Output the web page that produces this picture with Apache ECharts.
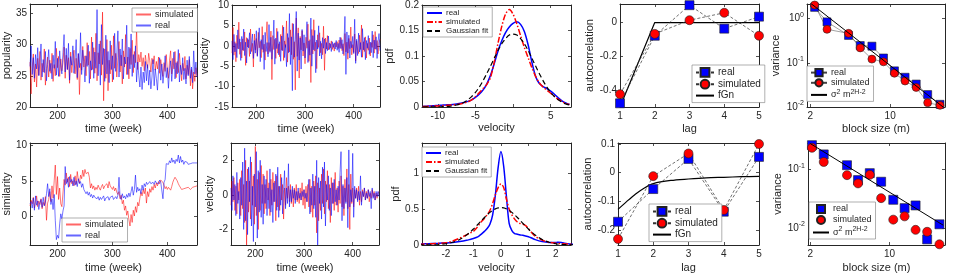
<!DOCTYPE html>
<html><head><meta charset="utf-8">
<script src="https://cdn.jsdelivr.net/npm/echarts@6/dist/echarts.min.js"></script>
<style>html,body{margin:0;padding:0;background:#fff}#c{width:954px;height:278px}</style>
</head><body><div id="c"></div>
<script>
// ---------- data ----------
const WEEK_START = 150, WEEK_STEP = 2;
const timeTicks = [200, 300, 400];

const popReal = [
26.5,29.8,25.2,27.9,24.6,28.4,26.1,29.5,25.0,27.2,
30.1,24.8,27.6,25.5,28.9,24.2,26.8,29.2,25.7,27.0,
24.5,28.3,26.2,30.5,25.1,27.8,24.9,29.0,26.4,25.3,
28.7,31.6,25.6,29.4,26.0,30.2,24.3,28.1,26.7,29.8,
25.4,27.5,30.8,24.7,28.6,26.3,31.9,25.2,29.1,27.3,
24.0,28.2,26.5,29.9,23.8,27.4,25.9,30.4,24.6,28.8,
26.2,35.6,25.0,30.1,23.5,33.2,26.8,29.4,24.1,31.5,
25.3,28.9,23.9,30.6,26.0,28.2,24.4,31.8,25.7,28.5,
32.2,24.8,29.3,26.6,30.9,24.5,28.0,26.9,33.1,25.2,
29.6,26.1,31.7,24.9,28.4,26.3,29.8,24.0,27.2,25.1,
23.2,26.4,22.8,25.6,23.9,27.3,24.2,26.8,23.5,25.9,
22.9,24.8,27.6,23.4,26.1,24.6,22.7,25.8,27.9,24.3,
26.9,23.8,25.5,28.2,24.7,26.3,23.0,25.9,27.4,24.1,
26.6,28.8,24.5,27.1,25.3,29.2,24.0,26.7,25.2,27.9,
24.4,26.2,23.7,27.5,25.0,28.1,24.6,26.4,23.9,29.0,
25.3,27.2,24.8];
const popSim = [
27.2,22.1,26.4,28.5,24.0,26.9,23.2,27.8,25.1,28.9,
24.3,27.0,25.6,29.3,23.5,26.2,28.0,24.8,27.5,25.4,
28.6,24.1,26.8,25.0,29.4,26.3,28.1,24.9,27.7,25.8,
27.1,29.6,24.6,28.3,26.0,27.9,23.8,28.8,25.5,27.4,
29.1,25.3,27.8,24.4,28.5,22.0,27.0,25.9,29.7,26.4,
28.2,25.0,30.3,26.7,28.9,24.5,31.2,26.0,29.5,25.4,
31.8,24.2,28.7,26.9,30.6,25.1,35.2,21.0,29.3,24.6,
30.8,22.6,27.5,25.3,29.9,24.0,31.4,26.2,28.6,24.8,
27.9,30.5,25.6,28.3,23.7,29.0,26.4,31.6,25.2,28.0,
24.5,29.4,26.8,30.7,25.5,28.9,27.1,32.6,26.0,28.4,
27.2,28.8,26.5,27.9,25.8,28.3,27.0,26.2,28.6,27.4,
25.6,27.8,26.9,28.2,25.9,27.3,26.1,28.0,25.4,27.6,
26.3,24.9,27.1,25.7,28.4,26.0,24.6,27.5,29.0,25.3,
27.8,26.1,28.9,24.7,27.3,25.5,28.6,26.4,24.2,27.0,
25.8,28.1,24.5,26.7,25.2,27.6,23.4,26.0,22.9,25.6,
24.1,26.3,25.0];
const velReal = [
1.2,-3.4,2.8,-1.5,0.6,-2.9,3.9,-0.8,1.7,-3.6,
2.3,-1.1,4.1,-2.4,0.9,-4.2,1.8,-0.5,3.2,-2.0,
0.4,2.9,-3.1,1.3,-1.8,3.7,-2.6,0.7,4.4,-3.9,
1.5,-0.9,2.6,-5.8,3.3,-1.4,0.8,-2.7,5.2,-1.6,
2.1,-3.3,0.5,6.3,-4.5,1.9,-0.7,3.5,-2.2,1.0,
-3.8,2.4,-1.2,4.6,-2.9,0.3,-5.1,3.0,-1.7,7.9,
-4.6,2.2,-11.0,5.4,-2.8,1.6,8.4,-6.2,3.1,-3.5,
1.9,-5.7,4.0,-1.3,2.7,-3.0,0.6,5.9,-4.1,1.2,
-2.3,6.8,-5.0,2.5,-1.0,3.8,-6.6,1.4,-0.8,4.9,
-2.5,1.1,-3.2,2.0,-0.6,1.7,-1.9,0.8,-1.2,2.4,
-0.9,0.5,-1.4,1.0,-0.4,0.7,-0.8,1.3,-1.1,0.6,
-1.6,2.1,-0.7,1.5,-2.0,0.9,7.2,-7.0,3.4,-1.8,
2.6,-3.0,1.1,-0.5,2.3,-1.9,6.5,-4.3,1.6,-2.4,
3.1,-1.5,0.8,-2.8,4.2,-1.0,2.0,-3.4,1.3,-0.6,
2.5,-2.1,0.9,-1.7,3.6,-2.9,1.4,-0.8,2.2,-3.1,
1.0,3.0,-1.2];
const velSim = [
-1.8,4.5,-2.3,1.0,-3.9,2.6,-0.7,5.8,-2.1,0.9,
-3.0,1.7,-1.2,3.4,-4.8,2.0,-0.3,1.5,-2.6,4.1,
-1.4,0.6,-5.2,2.9,-1.0,1.8,-2.4,3.3,-0.5,1.1,
-2.9,4.7,-1.6,0.4,-3.5,2.3,5.9,-2.0,0.8,-1.3,
3.6,-8.3,2.5,-0.9,1.6,-3.1,4.3,-1.8,0.5,-2.7,
2.8,-1.1,5.0,-3.6,1.2,-0.4,6.1,-4.0,2.0,-1.5,
3.9,-2.2,5.5,-3.3,1.0,-10.8,6.8,-2.6,4.4,-7.9,
2.3,-1.0,3.7,-2.5,0.7,-4.4,2.1,-0.6,5.3,-3.8,
1.5,-9.0,4.0,-2.0,6.4,-1.3,0.9,-5.6,2.7,-0.4,
3.2,-1.7,0.6,-2.2,4.8,-6.0,1.9,-0.8,2.5,-1.0,
0.7,-0.5,1.2,-0.9,0.4,-1.3,0.8,-0.3,1.0,-0.7,
1.4,-0.6,2.0,-1.2,0.5,-2.4,3.0,-1.5,0.9,-3.3,
1.8,-0.7,4.6,-2.2,0.3,-1.6,2.9,-3.7,1.2,-0.8,
-1.9,2.6,-0.9,5.1,-2.8,1.0,-1.4,2.2,-3.0,0.6,
-1.1,1.9,-2.5,0.8,-0.4,2.7,-1.8,3.5,-0.9,1.3,
-2.0,0.7,1.6];
const simiReal = [
1.8,2.1,1.2,2.6,0.9,2.9,1.6,2.2,1.0,1.9,
2.4,1.3,2.7,1.5,2.0,3.2,4.6,2.8,3.9,1.7,
2.5,1.0,3.1,-0.5,-3.2,-2.6,-3.0,-1.0,0.4,-0.3,
0.8,1.5,7.0,4.6,5.3,4.1,5.6,4.8,5.2,4.3,
5.5,4.4,5.0,4.2,5.3,4.6,4.9,4.1,4.6,3.8,
3.6,3.2,3.5,3.0,3.4,2.8,3.1,2.6,3.0,2.7,
2.9,2.5,2.8,2.3,2.7,2.4,2.6,2.9,2.2,2.6,
2.5,2.8,2.3,2.7,2.5,2.9,2.4,2.6,2.8,2.5,
3.0,5.5,2.7,2.4,3.2,2.6,2.9,2.5,3.1,2.7,
3.3,2.8,3.5,4.2,3.0,3.8,5.8,3.4,4.1,3.6,
3.9,3.2,4.4,3.7,4.6,4.2,4.8,4.5,4.3,4.9,
4.6,4.4,4.8,4.5,5.0,4.7,4.9,4.6,5.1,4.8,
4.9,2.5,4.8,5.2,7.4,7.6,7.3,7.8,7.5,8.2,
7.6,7.9,7.4,8.0,7.7,8.6,7.5,8.4,7.6,7.9,
7.3,7.7,7.5,7.6,7.3,7.5,7.4,7.6,7.5,7.4,
7.5,7.4,7.5];
const simiSim = [
1.5,2.3,1.8,2.7,1.2,2.0,2.9,1.4,2.2,1.7,
2.5,1.1,2.0,1.6,2.8,-0.5,1.9,2.4,3.5,2.1,
4.3,2.6,5.0,7.2,3.1,5.6,2.4,4.0,1.8,1.4,
1.6,5.2,4.4,6.1,4.8,5.5,4.2,5.9,4.6,5.0,
4.3,5.7,4.5,6.3,5.1,4.7,5.8,5.3,6.5,5.6,
6.6,6.0,5.8,6.2,5.5,4.0,4.6,3.9,4.3,3.7,
4.1,3.8,4.4,4.0,3.7,4.2,4.5,3.9,4.3,4.1,
4.6,4.0,4.9,4.3,4.4,3.8,4.2,3.6,4.0,3.4,
3.1,3.5,2.5,3.0,1.8,2.3,0.9,1.5,0.2,0.8,
-0.4,-1.3,0.3,-0.8,0.9,0.1,1.4,0.6,2.0,1.5,
2.6,3.4,2.9,3.8,3.2,4.0,1.9,3.5,2.8,3.9,
3.4,4.2,3.7,4.5,4.0,4.7,4.3,4.9,4.6,5.1,
5.3,4.8,5.0,3.9,4.2,3.8,4.1,4.0,3.7,4.2,
4.8,5.2,5.5,5.4,5.0,4.6,4.3,4.1,3.8,4.0,
3.9,3.7,4.0,3.8,4.1,3.9,3.8,4.0,4.1,3.9,
4.2,4.1,4.3];
const sVelReal = [
0.4,-0.9,1.1,-0.3,0.6,-1.2,1.3,-0.5,0.2,-1.4,
1.0,-0.6,1.9,-2.0,2.7,-1.5,0.8,-2.3,1.6,-0.4,
2.2,-1.8,0.5,-2.7,1.2,-0.7,2.5,-2.5,1.4,-1.0,
2.0,-1.3,0.6,-1.7,1.1,-0.5,0.9,-1.2,0.4,-0.8,
1.5,-1.0,0.3,-1.6,0.7,-0.4,1.2,-0.9,1.6,-1.3,
0.5,-0.6,1.0,-1.1,0.3,1.4,-0.8,0.4,-0.5,1.8,
-0.7,0.3,-0.4,0.5,-0.2,0.3,-0.5,0.2,-0.3,0.4,
-0.2,0.1,-0.3,0.2,-0.1,0.3,-0.2,0.1,-0.4,0.2,
0.9,-1.1,0.4,-0.6,1.2,-0.8,0.5,-1.3,2.0,-2.9,
1.0,-0.5,0.8,-1.4,1.6,-0.7,1.9,-1.8,0.6,-0.3,
1.1,-0.9,0.4,-1.2,0.7,-0.5,0.9,-0.4,0.3,-0.6,
0.5,-0.3,1.3,2.5,-1.5,0.6,-0.8,0.4,-0.5,1.0,
-1.9,2.6,-0.7,0.3,-0.4,2.4,-1.3,0.5,-0.2,0.3,
-0.4,0.2,-0.3,1.1,-0.6,0.2,-0.1,0.4,-0.3,0.1,
-0.2,0.3,-0.1,0.2,-0.8,0.4,-0.2,0.1,-0.3,0.2,
-0.1,0.2,-0.1];
const sVelSim = [
-0.6,0.8,-0.4,1.0,-0.9,0.5,-1.1,0.7,-0.3,0.9,
-1.2,1.4,-0.8,0.6,-1.6,2.0,-2.9,1.5,-1.0,0.8,
-1.4,1.9,-0.6,1.1,-1.7,2.8,-1.2,0.9,-2.0,1.3,
-0.9,1.7,-0.5,1.2,-1.1,0.6,-0.8,1.4,-0.3,0.7,
-1.2,0.9,-0.6,1.3,-0.4,0.8,-1.5,1.1,-0.7,0.5,
-0.9,1.2,-0.3,0.6,-1.4,0.4,-0.6,1.0,-0.2,0.5,
-0.4,0.6,-0.5,0.3,-0.7,0.4,-0.3,0.6,-0.4,0.2,
-0.5,0.4,-0.3,0.7,-0.6,0.3,-0.8,0.5,-0.4,0.6,
-0.7,0.9,-1.0,0.5,-1.3,0.8,-0.6,1.1,-2.2,0.7,
-1.5,0.4,-0.9,1.2,-0.5,1.5,-1.1,0.8,-0.4,1.4,
-0.8,0.6,-1.6,1.0,-0.5,0.7,-0.9,1.3,-0.6,0.4,
-1.0,0.8,-0.5,1.1,-0.7,0.5,-1.2,0.9,-0.4,1.5,
-0.8,0.6,-2.0,1.2,-0.5,0.4,-0.7,0.3,-0.2,0.4,
-0.3,0.5,-0.6,0.2,-0.4,0.3,-0.1,0.4,-0.3,0.2,
-0.2,0.3,-0.4,0.1,-0.2,0.3,-0.1,0.2,-0.3,0.1,
-0.2,0.1,0.2];

// pdf, top row
const pdfTopX = [-12,-11.5,-11,-10.5,-10,-9.5,-9,-8.5,-8,-7.5,-7,-6.5,-6,-5.5,-5,-4.5,-4,-3.5,-3,-2.5,-2,-1.5,-1,-0.5,0,0.5,1,1.5,2,2.5,3,3.5,4,4.5,5,5.5,6,6.5,7,7.5];
const pdfTopReal = [0.001,0.0015,0.002,0.0025,0.003,0.0035,0.004,0.0045,0.005,0.006,0.0075,0.009,0.011,0.014,0.019,0.025,0.033,0.045,0.062,0.085,0.11,0.13,0.146,0.157,0.164,0.167,0.162,0.148,0.122,0.088,0.06,0.046,0.04,0.036,0.031,0.025,0.018,0.012,0.008,0.005];
const pdfTopSim = [0.001,0.001,0.0015,0.002,0.002,0.0025,0.003,0.0035,0.004,0.005,0.006,0.008,0.01,0.014,0.02,0.028,0.036,0.044,0.058,0.088,0.125,0.158,0.182,0.191,0.182,0.163,0.14,0.117,0.097,0.077,0.06,0.047,0.039,0.033,0.027,0.021,0.015,0.011,0.007,0.005];
const pdfTopGauss = [0.0000,0.0001,0.0001,0.0002,0.0004,0.0006,0.0009,0.0014,0.0023,0.0039,0.0061,0.0094,0.0142,0.0204,0.0286,0.0389,0.0512,0.0653,0.0802,0.0957,0.111,0.124,0.134,0.141,0.143,0.141,0.134,0.124,0.111,0.0957,0.0802,0.0653,0.0512,0.0389,0.0286,0.0204,0.0142,0.0094,0.0061,0.0039];
// pdf, bottom row
const pdfBotX = [-3,-2.75,-2.5,-2.25,-2,-1.75,-1.5,-1.25,-1.1,-1,-0.9,-0.8,-0.7,-0.6,-0.5,-0.4,-0.3,-0.2,-0.1,0,0.1,0.2,0.3,0.4,0.5,0.6,0.7,0.8,0.9,1,1.1,1.25,1.5,1.75,2,2.1,2.25,2.5,2.75];
const pdfBotReal = [0.012,0.016,0.02,0.024,0.029,0.036,0.048,0.065,0.08,0.09,0.105,0.125,0.155,0.19,0.23,0.29,0.42,0.7,1.08,1.3,1.1,0.68,0.3,0.2,0.16,0.15,0.14,0.135,0.125,0.115,0.1,0.075,0.048,0.036,0.035,0.04,0.03,0.015,0.008];
const pdfBotSim = [0.01,0.013,0.018,0.024,0.03,0.055,0.095,0.14,0.17,0.19,0.23,0.28,0.33,0.37,0.42,0.48,0.58,0.7,0.8,0.85,0.8,0.64,0.5,0.42,0.36,0.32,0.3,0.29,0.27,0.23,0.18,0.12,0.068,0.038,0.025,0.022,0.018,0.012,0.008];
const pdfBotGauss = [0.0003,0.0008,0.0026,0.0071,0.0174,0.0386,0.0769,0.138,0.186,0.222,0.261,0.302,0.343,0.383,0.420,0.454,0.482,0.503,0.516,0.52,0.516,0.503,0.482,0.454,0.420,0.383,0.343,0.302,0.261,0.222,0.186,0.138,0.0769,0.0386,0.0174,0.0123,0.0071,0.0026,0.0008];

// autocorrelation
const lags = [1,2,3,4,5];
const acTopReal = [-0.478,-0.078,0.103,-0.036,0.035];
const acTopSim = [-0.424,-0.067,0.014,0.058,-0.078];
const acTopFgn = [-0.5,0,0,0,0];
const acBotReal = [-0.171,-0.057,0.048,-0.136,0.055];
const acBotSim = [-0.231,-0.012,0.067,-0.130,0.1];
const fgnBotLag = [1,1.25,1.5,1.75,2,2.5,3,3.5,4,4.5,5];
const fgnBotVal = [-0.128,-0.1,-0.074,-0.053,-0.038,-0.027,-0.022,-0.018,-0.016,-0.014,-0.013];

// variance vs block size
const blockTop = [2.18,2.80,4.32,5.47,6.92,8.74,10.9,13.5,16.9,21.3,27.3];
const varTopReal = [1.79,0.839,0.415,0.245,0.237,0.128,0.0656,0.047,0.033,0.0191,0.0115];
const varTopSim = [2.02,0.57,0.462,0.217,0.121,0.105,0.058,0.0387,0.0277,0.0125,0.0109];
const fitTopM = [2.0,29.5], fitTopV = [2.24,0.0097];
const blockBot = [2.07,2.63,4.22,5.28,6.70,8.44,10.8,13.6,17.0,21.5,27.6];
const varBotReal = [0.257,0.179,0.117,0.0653,0.0857,0.0612,0.0301,0.0217,0.0241,0.00636,0.0115];
const varBotSim = [0.232,0.133,0.0792,0.0573,0.0802,0.0321,0.0138,0.0157,0.00925,0.00857,0.00524];
const fitBotM = [2.0,29.8], fitBotV = [0.274,0.0111];

// ---------- chart ----------
const INK = '#262626';
const FONT = '"Liberation Sans", Arial, Helvetica, sans-serif';
const RED_T = 'rgba(255,0,0,0.6)', BLUE_T = 'rgba(0,0,255,0.6)';
const weeks = popReal.map((_, i) => WEEK_START + WEEK_STEP * i);
const pairs = (xs, ys) => ys.map((v, i) => [xs[i], v]);
const logFmt = v => '10{s|' + Math.round(Math.log10(v)) + '}';

const panels = [
 {g:{left:28,top:4,width:169,height:103}, x:{min:150,max:454,ticks:timeTicks,name:'time (week)',gap:16}, y:{min:20,max:36.5,ticks:[20,25,30,35],name:'popularity',gap:18}},
 {g:{left:232,top:4,width:148,height:103}, x:{min:150,max:454,ticks:timeTicks,name:'time (week)',gap:16}, y:{min:-15,max:10,ticks:[-15,-10,-5,0,5,10],name:'velocity',gap:17}},
 {g:{left:422,top:4,width:149,height:103}, x:{min:-12.1,max:7.7,ticks:[-10,-5,0,5],labels:[-10,-5,5],name:'velocity',gap:15}, y:{min:0,max:0.2,ticks:[0,0.05,0.1,0.15,0.2],name:'pdf',gap:17}},
 {g:{left:620,top:4,width:139,height:103}, x:{min:1,max:5,ticks:[1,2,3,4,5],name:'lag',gap:16}, y:{min:-0.5,max:0.11,ticks:[-0.4,-0.2,0],name:'autocorrelation',gap:21}},
 {g:{left:807,top:4,width:138,height:103}, x:{log:true,min:1.87,max:30.2,ticks:[2,10],name:'block size (m)',gap:16,fmt:v=>String(Math.round(v))}, y:{log:true,min:0.01,max:2.13,ticks:[0.01,0.1,1],name:'variance',gap:26,fmt:logFmt}},
 {g:{left:26,top:143,width:171,height:102}, x:{min:150,max:454,ticks:timeTicks,name:'time (week)',gap:17}, y:{min:-3.95,max:10.28,ticks:[0,5,10],name:'similarity',gap:15}},
 {g:{left:231,top:143,width:148,height:102}, x:{min:150,max:454,ticks:timeTicks,name:'time (week)',gap:17}, y:{min:-2.9,max:3.0,ticks:[-2,0,2],name:'velocity',gap:16}},
 {g:{left:422,top:143,width:149,height:102}, x:{min:-2.87,max:2.55,ticks:[-2,-1,0,1,2],name:'velocity',gap:17}, y:{min:0,max:1.42,ticks:[0,0.5,1],name:'pdf',gap:17}},
 {g:{left:618,top:143,width:141,height:102}, x:{min:1,max:5,ticks:[1,2,3,4,5],name:'lag',gap:17}, y:{min:-0.252,max:0.1035,ticks:[-0.2,-0.1,0,0.1],name:'autocorrelation',gap:22}},
 {g:{left:808,top:143,width:137,height:102}, x:{log:true,min:1.91,max:30.9,ticks:[2,10],name:'block size (m)',gap:17,fmt:v=>String(Math.round(v))}, y:{log:true,min:0.0051,max:0.28,ticks:[0.01,0.1],name:'variance',gap:25,fmt:logFmt}}
];

function axis(gi, a, isX, mirror) {
  const o = {
    type: a.log ? 'log' : 'value', logBase: 10, gridIndex: gi,
    position: isX ? (mirror ? 'top' : 'bottom') : (mirror ? 'right' : 'left'),
    min: a.min, max: a.max, scale: true,
    name: mirror ? '' : a.name, nameLocation: 'middle', nameGap: a.gap,
    nameRotate: isX ? 0 : 90,
    nameTextStyle: {color: INK, fontSize: 11, fontFamily: FONT},
    axisLine: {show: true, onZero: false, lineStyle: {color: INK, width: 1}},
    axisTick: {show: true, inside: true, length: 3, customValues: a.ticks, lineStyle: {color: INK, width: 0.8}},
    axisLabel: {show: !mirror, customValues: a.labels || a.ticks, margin: isX ? 4 : 3, color: INK, fontSize: 10, fontFamily: FONT,
      rich: {s: {fontSize: 7, fontFamily: FONT, color: INK, padding: [0, 0, 7, 0]}}},
    splitLine: {show: false}, minorTick: {show: false}, minorSplitLine: {show: false},
    silent: true
  };
  if (a.fmt) o.axisLabel.formatter = a.fmt;
  return o;
}

const grid = [], xAxis = [], yAxis = [];
panels.forEach((p, i) => {
  grid.push(Object.assign({show: false, containLabel: false}, p.g));
  xAxis.push(axis(i, p.x, true, false), axis(i, p.x, true, true));
  yAxis.push(axis(i, p.y, false, false), axis(i, p.y, false, true));
});

const series = [];
function add(gi, s) { series.push(Object.assign({xAxisIndex: 2*gi, yAxisIndex: 2*gi, animation: false, silent: true}, s)); }
function tsLine(gi, name, vals, color) {
  add(gi, {type: 'line', name, data: pairs(weeks, vals), symbol: 'none', lineStyle: {color, width: 0.9}, itemStyle: {color}});
}
function curve(gi, name, xs, ys, color, type, width) {
  add(gi, {type: 'line', name, data: pairs(xs, ys), symbol: 'none', smooth: 0.3, lineStyle: {color, width, type}, itemStyle: {color}});
}
function markers(gi, name, xs, ys, color, symbol, size, lineStyle) {
  add(gi, {type: 'line', name, data: pairs(xs, ys), symbol, symbolSize: size, showSymbol: true,
    lineStyle, itemStyle: {color, borderColor: '#222', borderWidth: 0.6, opacity: 1}, z: 3});
}
const DASH = {color: '#333', width: 0.7, type: [3, 2]};
const THIN = {color: '#444', width: 0.5};
const NOLINE = {color: 'rgba(0,0,0,0)', width: 0, opacity: 0};

// row 1
tsLine(0, 'simulated@1', popSim, RED_T);  tsLine(0, 'real@1', popReal, BLUE_T);
tsLine(1, 'simulated@2', velSim, RED_T);  tsLine(1, 'real@2', velReal, BLUE_T);
curve(2, 'real@3', pdfTopX, pdfTopReal, '#0000ff', 'solid', 1.5);
curve(2, 'simulated@3', pdfTopX, pdfTopSim, '#ff0000', [6, 2, 1.5, 2], 1.5);
curve(2, 'Gaussian fit@3', pdfTopX, pdfTopGauss, '#000', [5, 3], 1.2);
add(3, {type: 'line', name: 'fGn@4', data: pairs(lags, acTopFgn), symbol: 'none', lineStyle: {color: '#000', width: 1.2}, itemStyle: {color: '#000'}, z: 2});
markers(3, 'real@4', lags, acTopReal, '#0000ff', 'rect', 9, DASH);
markers(3, 'simulated@4', lags, acTopSim, '#ff0000', 'circle', 9, DASH);
add(4, {type: 'line', name: 'fit@5', data: pairs(fitTopM, fitTopV), symbol: 'none', lineStyle: {color: '#000', width: 1}, itemStyle: {color: '#000'}, z: 4});
markers(4, 'real@5', blockTop, varTopReal, '#0000ff', 'rect', 8, THIN);
markers(4, 'simulated@5', blockTop, varTopSim, '#ff0000', 'circle', 8, THIN);
// row 2
tsLine(5, 'simulated@6', simiSim, RED_T);  tsLine(5, 'real@6', simiReal, BLUE_T);
tsLine(6, 'simulated@7', sVelSim, RED_T);  tsLine(6, 'real@7', sVelReal, BLUE_T);
curve(7, 'real@8', pdfBotX, pdfBotReal, '#0000ff', 'solid', 1.5);
curve(7, 'simulated@8', pdfBotX, pdfBotSim, '#ff0000', [6, 2, 1.5, 2], 1.5);
curve(7, 'Gaussian fit@8', pdfBotX, pdfBotGauss, '#000', [5, 3], 1.2);
add(8, {type: 'line', name: 'fGn@9', data: pairs(fgnBotLag, fgnBotVal), symbol: 'none', smooth: 0.3, lineStyle: {color: '#000', width: 1.2}, itemStyle: {color: '#000'}, z: 2});
markers(8, 'real@9', lags, acBotReal, '#0000ff', 'rect', 9, DASH);
markers(8, 'simulated@9', lags, acBotSim, '#ff0000', 'circle', 9, DASH);
add(9, {type: 'line', name: 'fit@10', data: pairs(fitBotM, fitBotV), symbol: 'none', lineStyle: {color: '#000', width: 1}, itemStyle: {color: '#000'}, z: 4});
markers(9, 'real@10', blockBot, varBotReal, '#0000ff', 'rect', 9, NOLINE);
markers(9, 'simulated@10', blockBot, varBotSim, '#ff0000', 'circle', 9, NOLINE);

// legend entries: strings keep the series symbol; {line:true} hides the symbol (line-only sample)
function legend(items, left, top, fs, iw, ih, gap) {
  const data = items.map(it => typeof it === 'string' ? {name: it} : {name: it.name, itemStyle: {opacity: 0, borderWidth: 0}});
  return {
    data, orient: 'vertical', left, top, itemWidth: iw, itemHeight: ih, itemGap: gap,
    padding: [2, 4, 2, 3], borderColor: '#7a7a7a', borderWidth: 0.6, borderRadius: 0, backgroundColor: '#fff',
    selectedMode: false, z: 10,
    formatter: n => { const b = n.split('@')[0]; return b === 'fit' ? 'σ{s|2} m{s|2H-2}' : b; },
    textStyle: {fontSize: fs, color: INK, fontFamily: FONT, padding: [0, 0, 0, -1],
      rich: {s: {fontSize: fs - 2, fontFamily: FONT, color: INK, padding: [0, 0, 6, 0]}}}
  };
}
const L = n => ({name: n, line: true});
const legends = [
  legend([L('simulated@1'), L('real@1')], 132, 8, 9, 15, 8, 2),
  legend([L('real@3'), L('simulated@3'), L('Gaussian fit@3')], 423, 7, 8, 15, 8, 1),
  legend(['real@4', 'simulated@4', L('fGn@4')], 692, 65, 10, 18, 11, 1),
  legend(['real@5', 'simulated@5', L('fit@5')], 807, 66, 9, 16, 9, 1),
  legend([L('simulated@6'), L('real@6')], 62, 218, 9, 15, 8, 2),
  legend([L('real@8'), L('simulated@8'), L('Gaussian fit@8')], 422, 147, 8, 15, 8, 1),
  legend(['real@9', 'simulated@9', L('fGn@9')], 649, 204, 10, 18, 11, 1),
  legend(['real@10', 'simulated@10', L('fit@10')], 809, 202, 9, 16, 10, 1)
];

const chart = echarts.init(document.getElementById('c'), null, {renderer: 'canvas', width: 954, height: 278});
chart.setOption({
  backgroundColor: '#fff', animation: false, textStyle: {fontFamily: FONT},
  grid, xAxis, yAxis, series, legend: legends
});
</script></body></html>
